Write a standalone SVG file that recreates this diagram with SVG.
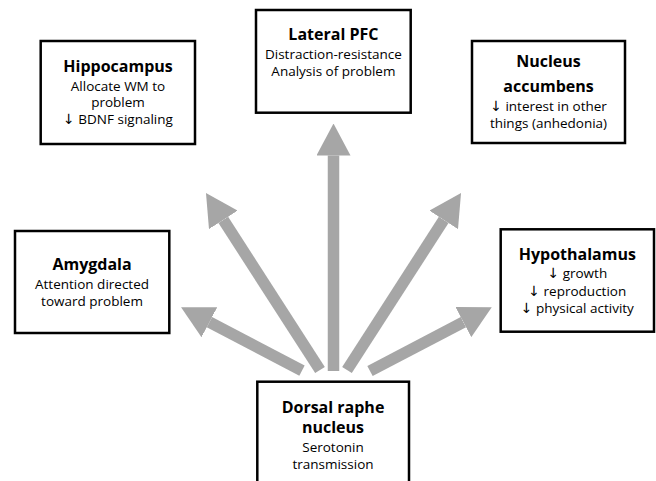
<svg xmlns="http://www.w3.org/2000/svg" width="656" height="481" viewBox="0 0 656 481">
  <style>
    .box { fill: #ffffff; stroke: #000000; stroke-width: 2.5; }
    .t { font-family: "Open Sans", "Noto Sans", "DejaVu Sans", sans-serif; font-size: 13.5px; fill: #000; text-anchor: middle; }
    .h { font-weight: bold; font-size: 16px; }
    .a { font-family: "DejaVu Sans", sans-serif; font-size: 14px; }
    .arr { stroke: #a6a6a6; stroke-width: 11.5; fill: none; marker-end: url(#head); }
  </style>
  <defs>
    <marker id="head" viewBox="0 0 32 34" refX="0" refY="17" markerWidth="32" markerHeight="34" markerUnits="userSpaceOnUse" orient="auto">
      <path d="M0,0 L32,17 L0,34 Z" fill="#a6a6a6"/>
    </marker>
  </defs>
  <rect width="656" height="481" fill="#ffffff"/>

  <g id="connectors">
    <line class="arr" x1="333.5" y1="371" x2="333.5" y2="155.5"/>
    <line class="arr" x1="320" y1="370" x2="223.3" y2="219.9"/>
    <line class="arr" x1="347" y1="370" x2="443.7" y2="219.9"/>
    <line class="arr" x1="302" y1="370.7" x2="209.4" y2="322.2"/>
    <line class="arr" x1="370" y1="371" x2="463.4" y2="322.1"/>
  </g>

  <g id="hippocampus">
    <rect class="box" x="40.7" y="41" width="154.3" height="103"/>
    <text class="t h" x="118" y="71.7">Hippocampus</text>
    <text class="t" x="118" y="90.7">Allocate WM to</text>
    <text class="t" x="118" y="107">problem</text>
    <text class="t" x="118" y="123.5"><tspan class="a">↓</tspan> BDNF signaling</text>
  </g>

  <g id="lateral-pfc">
    <rect class="box" x="256" y="10" width="154.7" height="102.7"/>
    <text class="t h" x="333.4" y="40">Lateral PFC</text>
    <text class="t" x="333.4" y="59">Distraction-resistance</text>
    <text class="t" x="333.4" y="76">Analysis of problem</text>
  </g>

  <g id="nucleus-accumbens">
    <rect class="box" x="472" y="41" width="153" height="102"/>
    <text class="t h" x="548.5" y="67.3">Nucleus</text>
    <text class="t h" x="548.5" y="91.7">accumbens</text>
    <text class="t" x="548.5" y="111"><tspan class="a">↓</tspan> interest in other</text>
    <text class="t" x="548.5" y="128.3">things (anhedonia)</text>
  </g>

  <g id="amygdala">
    <rect class="box" x="15" y="231" width="154.3" height="102"/>
    <text class="t h" x="92" y="270">Amygdala</text>
    <text class="t" x="92" y="289">Attention directed</text>
    <text class="t" x="92" y="305.7">toward problem</text>
  </g>

  <g id="hypothalamus">
    <rect class="box" x="500.7" y="229.3" width="153.3" height="102.4"/>
    <text class="t h" x="577.3" y="260">Hypothalamus</text>
    <text class="t" x="577.3" y="278.3"><tspan class="a">↓</tspan> growth</text>
    <text class="t" x="577.3" y="296"><tspan class="a">↓</tspan> reproduction</text>
    <text class="t" x="577.3" y="313.3"><tspan class="a">↓</tspan> physical activity</text>
  </g>

  <g id="dorsal-raphe">
    <rect class="box" x="257.3" y="381.7" width="151.7" height="110"/>
    <text class="t h" x="333" y="413">Dorsal raphe</text>
    <text class="t h" x="333" y="433">nucleus</text>
    <text class="t" x="333" y="452">Serotonin</text>
    <text class="t" x="333" y="469">transmission</text>
  </g>
</svg>
